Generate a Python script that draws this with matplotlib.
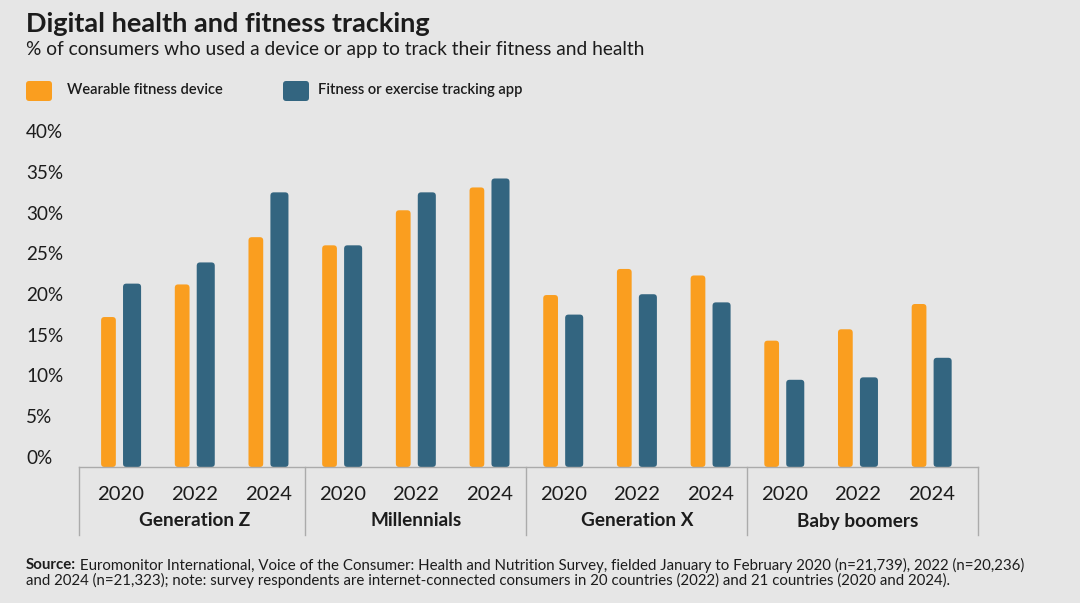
import matplotlib; matplotlib.use("Agg")
import matplotlib.pyplot as plt
import matplotlib.transforms as mtransforms
from matplotlib.patches import FancyBboxPatch

plt.rcParams["font.family"] = ["Lato", "DejaVu Sans"]

groups = ["Generation Z", "Millennials", "Generation X", "Baby boomers"]
years = ["2020", "2022", "2024"]
wearable = [18.4, 22.4, 28.2, 27.2, 31.5, 34.3, 21.1, 24.3, 23.5, 15.5, 16.9, 20.0]
app = [22.5, 25.1, 33.7, 27.2, 33.7, 35.4, 18.7, 21.2, 20.2, 10.7, 11.0, 13.4]
yticks = [0, 5, 10, 15, 20, 25, 30, 35, 40]

BG = "#e6e6e6"; ORANGE = "#fa9e1f"; BLUE = "#336580"; INK = "#1c1c1c"; LINE = "#ababab"

fig = plt.figure(figsize=(10.8, 6.03), dpi=100, facecolor=BG)
ax = fig.add_axes([79/1080, 1-467/603, 899/1080, 326/603])
ax.set_facecolor(BG)
ax.set_xlim(-0.57, 11.63); ax.set_ylim(0, 40)
for s in ax.spines.values(): s.set_visible(False)
ax.set_xticks([]); ax.set_yticks([])

# rounded bars: draw with ax.bar then swap for rounded patches of same geometry
xs = list(range(len(wearable)))
aspect = (40/326) / (12.2/899)
for vals, off, w, col in ((wearable, -0.17, 0.20, ORANGE), (app, 0.15, 0.245, BLUE)):
    bars = ax.bar([x+off for x in xs], vals, width=w, color=col)
    for b in bars:
        b.set_visible(False)
        ax.add_patch(FancyBboxPatch((b.get_x(), b.get_y()), b.get_width(), b.get_height(),
                     boxstyle="round,pad=0,rounding_size=0.045", mutation_aspect=aspect,
                     fc=col, ec="none", clip_on=False))

# y labels sit just above their value, left-aligned at the figure margin
tr = mtransforms.blended_transform_factory(fig.transFigure, ax.transData)
tr = tr + mtransforms.ScaledTranslation(0, 3/100, fig.dpi_scale_trans)
for v in yticks:
    ax.text(26/1080, v, f"{v}%", transform=tr, ha="left", va="baseline", fontsize=13.6, color=INK)

# category axis
bt = mtransforms.blended_transform_factory(ax.transData, ax.transAxes)
h = 326
ax.plot([-0.57, 11.63], [0, 0], transform=bt, color=LINE, lw=1, clip_on=False)
for xsep in (-0.57, 2.5, 5.5, 8.5, 11.63):
    ax.plot([xsep, xsep], [0, -68/h], transform=bt, color=LINE, lw=1, clip_on=False)
for i, x in enumerate(xs):
    ax.text(x, -27/h, years[i % 3], transform=bt, ha="center", va="center", fontsize=14.6, color=INK)
for gi, g in enumerate(groups):
    ax.text(gi*3+1, -54/h, g, transform=bt, ha="center", va="center", fontsize=13.7,
            fontweight="bold", color=INK)

# titles and legend
fig.text(26/1080, 1-24/603, "Digital health and fitness tracking", fontsize=19.5, fontweight="bold",
         color=INK, va="center", ha="left")
fig.text(26/1080, 1-50/603, "% of consumers who used a device or app to track their fitness and health",
         fontsize=13.8, color=INK, va="center", ha="left")
for x0, tx, col, lab in ((26, 67, ORANGE, "Wearable fitness device"),
                         (283, 318, BLUE, "Fitness or exercise tracking app")):
    fig.patches.append(FancyBboxPatch((x0/1080, 1-101/603), 26/1080, 20/603,
                       boxstyle="round,pad=0,rounding_size=0.003", transform=fig.transFigure,
                       fc=col, ec="none", mutation_aspect=1080/603))
    fig.text(tx/1080, 1-90/603, lab, fontsize=10.6, fontweight="semibold", color=INK,
             va="center", ha="left")

# source note
t1 = fig.text(26/1080, 1-565/603, "Source:", fontsize=10.8, fontweight="bold", color=INK, va="center")
ax.annotate(" Euromonitor International, Voice of the Consumer: Health and Nutrition Survey, fielded January "
            "to February 2020 (n=21,739), 2022 (n=20,236)", xy=(1, 0.5), xycoords=t1, va="center",
            ha="left", fontsize=10.8, color=INK, annotation_clip=False)
fig.text(26/1080, 1-580/603, "and 2024 (n=21,323); note: survey respondents are internet-connected consumers "
         "in 20 countries (2022) and 21 countries (2020 and 2024).", fontsize=10.8, color=INK, va="center")

fig.savefig("out.png", dpi=100, facecolor=BG)
